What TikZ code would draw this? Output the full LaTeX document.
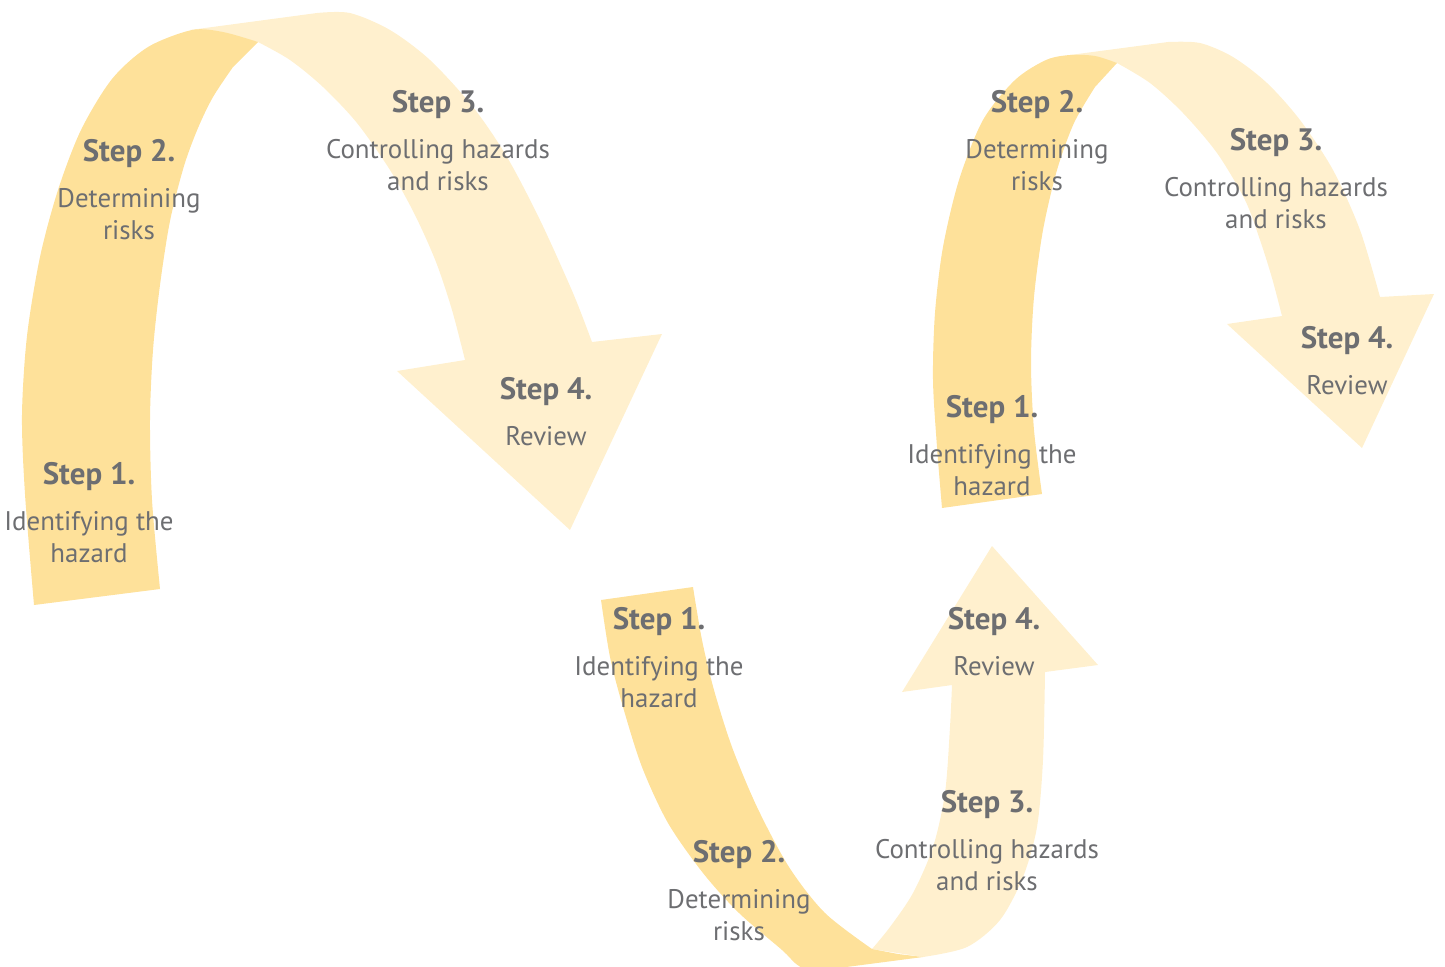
\documentclass[tikz,border=0pt]{standalone}
\usepackage{fontspec}
\setmainfont{PT Sans}
\definecolor{ribdark}{RGB}{254,225,154}
\definecolor{riblight}{RGB}{255,240,206}
\definecolor{txtgray}{RGB}{109,110,113}
\tikzset{
  darkband/.style={fill=ribdark},
  lightband/.style={fill=riblight},
  steptitle/.style={font=\fontsize{8.8}{10}\selectfont\bfseries, text=txtgray, inner sep=0pt, anchor=base},
  stepbody/.style={font=\fontsize{7.65}{9.1}\selectfont, text=txtgray, inner sep=0pt, anchor=base}
}
\newcommand{\stepblock}[6]{%
  \node[steptitle] (#1t) at ({#2},{#3}) {#4};
  \node[stepbody] (#1a) at ({#2},{#3+46}) {#5};
  \node[stepbody] (#1b) at ({#2},{#3+78}) {#6};}
\newcommand{\stepblockone}[5]{%
  \node[steptitle] (#1t) at ({#2},{#3}) {#4};
  \node[stepbody] (#1a) at ({#2},{#3+46}) {#5};}
\begin{document}
\begin{tikzpicture}[x=0.01cm,y=-0.01cm]
\useasboundingbox (0,0) rectangle (1445,966);
\clip (0,0) rectangle (1445,966);
% ---------- ribbon 1 (left) ----------
\fill[lightband] (190,30) -- plot[smooth] coordinates {(317,13) (350,13) (390,30) (430,60) (473,107) (507,157) (540,220) (573,293) (592,342)}
  -- (662,334) -- (570,530) -- (397,371)
  -- plot[smooth] coordinates {(465,360) (452,310) (436,262) (415,215) (390,170) (357,123) (323,87) (290,60) (258,42)} -- cycle;
\fill[darkband] plot[smooth] coordinates {(34,605) (25,494) (22,415) (27,336) (40,257) (58,190) (81,130) (112,79) (148,47) (192,30) (223,32) (258,42)}
  -- plot[smooth] coordinates {(233,67) (213,97) (198,128) (184,166) (170,221) (160,285) (153,350) (150,420) (152,500) (160,589)} -- cycle;
% ---------- ribbon 2 (bottom) ----------
\fill[lightband] (872,949) -- (923,957) -- plot[smooth] coordinates {(923,957) (967,947) (1000,920) (1023,877) (1037,827) (1043,760) (1045,672)}
  -- (1098,665) -- (992,546) -- (902,692)
  -- plot[smooth] coordinates {(952,685) (950,727) (945,793) (933,847) (913,893) (890,927) (872,949)} -- cycle;
\fill[darkband] (601,600) -- (693,587)
  -- plot[smooth] coordinates {(693,587) (702,640) (714,690) (732,747) (757,807) (789,867) (825,913) (872,949)}
  -- (898,954) -- (923,957) -- (808,972)
  -- plot[smooth] coordinates {(808,972) (795,963) (782,950) (739,913) (703,873) (668,823) (642,767) (623,707) (610,657) (601,600)} -- cycle;
% ---------- ribbon 3 (right) ----------
\fill[lightband] (1070,55) -- plot[smooth] coordinates {(1168,42) (1200,43) (1233,57) (1267,83) (1300,120) (1333,170) (1360,230) (1380,297)}
  -- (1434,294) -- (1362,448) -- (1227,324)
  -- plot[smooth] coordinates {(1282,316) (1272,278) (1260,240) (1245,200) (1217,153) (1183,113) (1150,83) (1117,63)} -- cycle;
\fill[darkband] plot[smooth] coordinates {(942,508) (937,447) (933,380) (935,313) (943,247) (959,180) (983,120) (1015,80) (1046,60) (1070,55) (1095,56) (1117,63)}
  -- plot[smooth] coordinates {(1095,87) (1074,123) (1057,170) (1043,230) (1034,297) (1031,363) (1034,430) (1042,494)} -- cycle;
% ---------- labels ----------
\stepblock{aa}{89}{484}{Step 1.}{Identifying the}{hazard}
\stepblock{ab}{129}{161}{Step 2.}{Determining}{risks}
\stepblock{ac}{438}{112}{Step 3.}{Controlling hazards}{and risks}
\stepblockone{ad}{546}{399}{Step 4.}{Review}
\stepblock{ba}{659}{629}{Step 1.}{Identifying the}{hazard}
\stepblock{bb}{739}{862}{Step 2.}{Determining}{risks}
\stepblock{bc}{987}{812}{Step 3.}{Controlling hazards}{and risks}
\stepblockone{bd}{994}{629}{Step 4.}{Review}
\stepblock{ca}{992}{417}{Step 1.}{Identifying the}{hazard}
\stepblock{cb}{1037}{112}{Step 2.}{Determining}{risks}
\stepblock{cc}{1276}{150}{Step 3.}{Controlling hazards}{and risks}
\stepblockone{cd}{1347}{348}{Step 4.}{Review}
\end{tikzpicture}
\end{document}
